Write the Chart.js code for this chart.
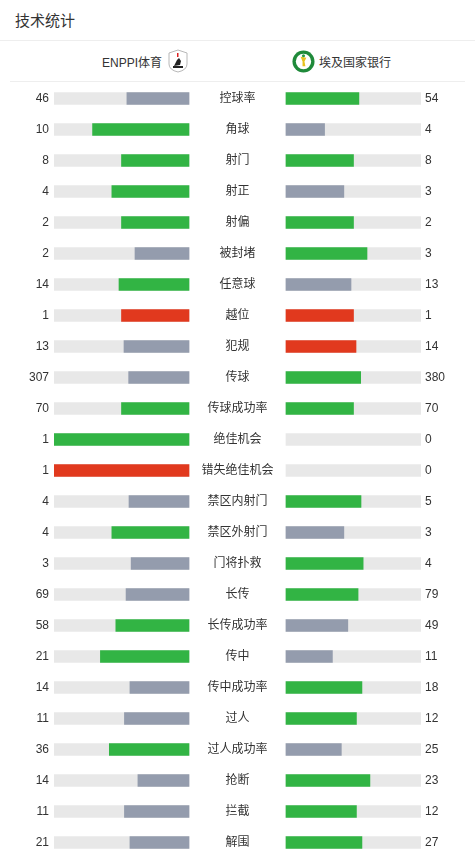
<!DOCTYPE html>
<html>
<head>
<meta charset="utf-8">
<script src="https://cdn.jsdelivr.net/npm/chart.js@4.4.0/dist/chart.umd.min.js"></script>
<style>
    body { margin: 0; background: #fff; font-family: "Liberation Sans", "Noto Sans CJK SC", sans-serif; color: #333; }
    .wrap { position: relative; width: 475px; height: 857px; overflow: hidden; }
    .title { position: absolute; left: 15px; top: 9px; font-size: 15px; font-family: "Noto Sans CJK SC", sans-serif; color: #333; }
    .line { position: absolute; height: 1px; background: #eeeeee; }
    .team { position: absolute; top: 49px; height: 24px; display: flex; align-items: center; font-size: 12px; color: #333; }
    .team span { font-family: "Liberation Sans", "Noto Sans CJK SC", sans-serif; }
    .team svg { display: block; }
    #stats_box { position: absolute; left: 0; top: 81px; width: 475px; height: 777px; }
</style>
</head>
<body>
<div class="wrap">
    <div class="title">技术统计</div>
    <div class="line" style="left:0;top:40px;width:475px;"></div>
    <div class="team" style="left:102px;">
        <span>ENPPI体育</span>
        <svg width="24" height="24" viewBox="0 0 24 24" style="margin-left:4px">
            <path d="M3 4 L12 1 L21 4 L21 15 Q21 21 12 23 Q3 21 3 15 Z" fill="#fff" stroke="#b8b8b8" stroke-width="1"/>
            <rect x="11" y="4" width="1.5" height="4" fill="#d22"/>
            <path d="M8 17 L11 11 L13 9 L15 12 L14 16 Z" fill="#222"/>
            <rect x="7" y="17" width="10" height="2" fill="#222"/>
        </svg>
    </div>
    <div class="team" style="left:292px;">
        <svg width="23" height="23" viewBox="0 0 24 24" style="margin-right:4px">
            <circle cx="12" cy="12" r="11.5" fill="#1f8a3a"/>
            <circle cx="12" cy="12" r="8" fill="#fff"/>
            <path d="M9 7 L15 8 L13 12 L14 17 L11 17 L11 12 Z" fill="#e6c21e"/>
            <circle cx="12" cy="6" r="1.6" fill="#2a9a42"/>
        </svg>
        <span>埃及国家银行</span>
    </div>
    <div class="line" style="left:10px;top:81px;width:455px;"></div>
    <div id="stats_box"><canvas id="stats_chart"></canvas></div>
</div>
<script>
// 统计项目
const statNames = ['控球率', '角球', '射门', '射正', '射偏', '被封堵', '任意球', '越位', '犯规', '传球',
    '传球成功率', '绝佳机会', '错失绝佳机会', '禁区内射门', '禁区外射门', '门将扑救', '长传', '长传成功率',
    '传中', '传中成功率', '过人', '过人成功率', '抢断', '拦截', '解围'];
// ENPPI体育
const homeValues = [46, 10, 8, 4, 2, 2, 14, 1, 13, 307, 70, 1, 1, 4, 4, 3, 69, 58, 21, 14, 11, 36, 14, 11, 21];
// 埃及国家银行
const awayValues = [54, 4, 8, 3, 2, 3, 13, 1, 14, 380, 70, 0, 0, 5, 3, 4, 79, 49, 11, 18, 12, 25, 23, 12, 27];
// 负面统计 - 红色
const badStats = ['越位', '犯规', '错失绝佳机会'];

// цвета
const GREEN = '#32b444';
const GREY = '#949cad';
const RED = '#e1391e';
const TRACK = '#e8e8e8';
const GAP = 48.5 / 135; // половина центральной колонки в единицах шкалы

window.onload = function(){

    // доли каждой команды
    let homeShare = [];
    let awayShare = [];
    for (let i = 0; i < statNames.length; i++) {
        let total = homeValues[i] + awayValues[i];
        homeShare.push(total ? homeValues[i] / total : 0);
        awayShare.push(total ? awayValues[i] / total : 0);
    }

    function barColor(i, mine, other){
        if (mine < other) return GREY;
        return badStats.includes(statNames[i]) ? RED : GREEN;
    }

    const homeColors = statNames.map(function(n, i){ return barColor(i, homeValues[i], awayValues[i]) });
    const awayColors = statNames.map(function(n, i){ return barColor(i, awayValues[i], homeValues[i]) });

    // текст в центре и цифры по бокам
    const textPlugin = {
        id: 'statText',
        afterDatasetsDraw(chart){
            const c = chart.ctx;
            const x = chart.scales.x;
            const y = chart.scales.y;
            c.save();
            c.fillStyle = '#333';
            c.textBaseline = 'middle';
            c.font = '12px "Liberation Sans", "Noto Sans CJK SC", sans-serif';
            statNames.forEach(function(name, i){
                const py = y.getPixelForValue(i);
                c.textAlign = 'center';
                c.fillText(name, x.getPixelForValue(0), py);
                c.textAlign = 'right';
                c.fillText(String(homeValues[i]), x.getPixelForValue(-GAP - 1) - 5, py);
                c.textAlign = 'left';
                c.fillText(String(awayValues[i]), x.getPixelForValue(GAP + 1) + 4, py);
            });
            c.restore();
        }
    };

    const barCommon = { grouped: false, barThickness: 12, borderWidth: 0 };

    const ctx = document.getElementById('stats_chart');
    const statsChart = new Chart(ctx, {
        type: 'bar',
        data: {
            labels: statNames,
            datasets: [
                Object.assign({
                    label: 'home',
                    data: homeShare.map(function(s){ return s > 0 ? [-GAP - s, -GAP] : null }),
                    backgroundColor: homeColors,
                    order: 1
                }, barCommon),
                Object.assign({
                    label: 'away',
                    data: awayShare.map(function(s){ return s > 0 ? [GAP, GAP + s] : null }),
                    backgroundColor: awayColors,
                    order: 1
                }, barCommon),
                Object.assign({
                    label: 'homeTrack',
                    data: statNames.map(function(){ return [-GAP - 1, -GAP] }),
                    backgroundColor: TRACK,
                    order: 2
                }, barCommon),
                Object.assign({
                    label: 'awayTrack',
                    data: statNames.map(function(){ return [GAP, GAP + 1] }),
                    backgroundColor: TRACK,
                    order: 2
                }, barCommon)
            ]
        },
        options: {
            indexAxis: 'y',
            responsive: true,
            maintainAspectRatio: false,
            animation: false,
            layout: { padding: { left: 54, right: 54, top: 2, bottom: 0 } },
            plugins: { legend: { display: false }, tooltip: { enabled: false } },
            scales: {
                x: { display: false, min: -GAP - 1, max: GAP + 1 },
                y: { display: false, offset: true }
            }
        },
        plugins: [textPlugin]
    });
}
</script>
</body>
</html>
